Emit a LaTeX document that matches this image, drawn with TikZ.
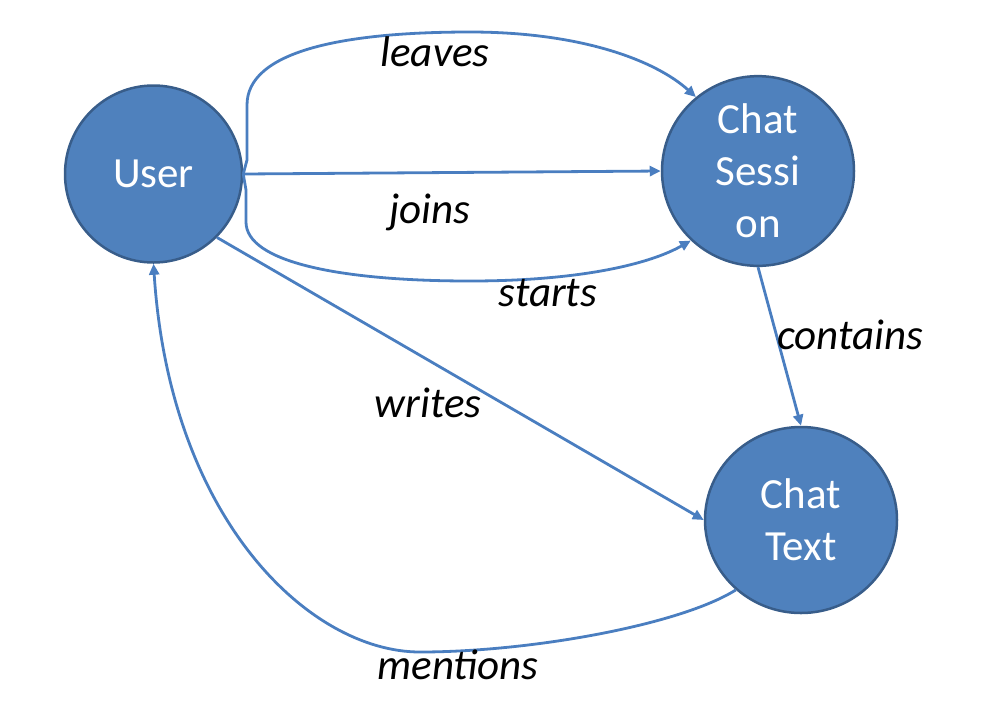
\documentclass[tikz,border=0pt]{standalone}
\usepackage{fontspec}
\setmainfont{Carlito}
\usetikzlibrary{arrows.meta,shapes.geometric}
\definecolor{nodefill}{HTML}{4F81BD}
\definecolor{nodeline}{HTML}{385D8A}
\definecolor{edgecol}{HTML}{4A7EC0}
\begin{document}
\begin{tikzpicture}[x=1pt,y=1pt,
  entity/.style={ellipse,draw=nodeline,line width=2.5pt,fill=nodefill,text=white,
    inner sep=0pt,align=center,font=\fontsize{43}{52}\selectfont},
  edge/.style={draw=edgecol,line width=2.8pt,-{Triangle[length=11pt,width=10pt]}},
  lbl/.style={font=\fontsize{43}{48}\selectfont\itshape,text=black,inner sep=0pt}]
\useasboundingbox (0,0) rectangle (996,-716);
\node[entity,minimum width=177pt,minimum height=177pt] (U) at (153.5,-174) {User};
\node[entity,minimum width=192pt,minimum height=186pt] (S) at (758,-171) {Chat\\Sessi\\on};
\node[entity,minimum width=192pt,minimum height=186pt] (T) at (801,-520) {Chat\\Text};
% joins
\draw[edge] (U.east) -- (S.west);
% leaves
\draw[edge] (U.east) -- (247,-160) -- (247,-105) .. controls (247,-52) and (340,-32) .. (470,-32) .. controls (580,-32) and (655,-60) .. (S.130);
% starts
\draw[edge] (U.east) -- (246,-190) -- (246,-222) .. controls (246,-262) and (340,-281) .. (470,-281) .. controls (580,-281) and (650,-264) .. (S.-134);
% writes
\draw[edge] (U.-45) -- (T.west);
% contains
\draw[edge] (S.south) -- (T.north);
% mentions
\draw[edge] (T.227) .. controls (680,-625) and (530,-652) .. (420,-652) .. controls (310,-652) and (170,-520) .. (U.south);
\node[lbl] (lleaves) at (435,-52) {leaves};
\node[lbl] (ljoins) at (430,-212) {joins};
\node[lbl] (lstarts) at (548,-293) {starts};
\node[lbl] (lcontains) at (850,-335) {contains};
\node[lbl] (lwrites) at (428,-403) {writes};
\node[lbl] (lmentions) at (458,-665) {mentions};
\end{tikzpicture}
\end{document}
